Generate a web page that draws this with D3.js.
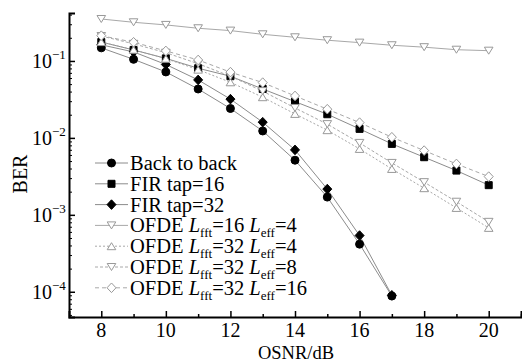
<!DOCTYPE html>
<html>
<head>
<meta charset="utf-8">
<script src="https://cdn.jsdelivr.net/npm/d3@7/dist/d3.min.js"></script>
<style>
  body { margin: 0; background: #fff; }
  svg { display: block; font-family: "Liberation Serif", "DejaVu Serif", serif; }
</style>
</head>
<body>
<div id="chart"></div>
<script>
// values
const osnr = [8, 9, 10, 11, 12, 13, 14, 15, 16, 17, 18, 19, 20];
const b2b = [0.148, 0.105, 0.072, 0.0432, 0.0241, 0.0123, 0.00513, 0.0017, 0.000416, 0.000088];
const fir16 = [0.176, 0.139, 0.108, 0.0804, 0.0633, 0.0432, 0.0296, 0.0203, 0.0131, 0.00836, 0.00561, 0.00376, 0.00243];
const fir32 = [0.162, 0.131, 0.090, 0.0567, 0.0319, 0.0160, 0.00698, 0.00216, 0.000538, 0.000090];
const ofde16_4 = [0.351, 0.318, 0.294, 0.266, 0.248, 0.222, 0.203, 0.186, 0.173, 0.160, 0.151, 0.140, 0.136];
const ofde32_4 = [0.176, 0.140, 0.107, 0.0771, 0.0528, 0.0338, 0.0205, 0.0126, 0.00719, 0.00395, 0.00222, 0.00123, 0.000677];
const ofde32_8 = [0.211, 0.167, 0.128, 0.0922, 0.0632, 0.0405, 0.0245, 0.0151, 0.00861, 0.00473, 0.00266, 0.00148, 0.000811];
const ofde32_16 = [0.213, 0.175, 0.135, 0.103, 0.0716, 0.0523, 0.0351, 0.0236, 0.0158, 0.0102, 0.00684, 0.00459, 0.00314];

const xTicks = [8, 10, 12, 14, 16, 18, 20];
const yTicks = [1e-1, 1e-2, 1e-3, 1e-4];
const yTickExp = ["\u22121", "\u22122", "\u22123", "\u22124"];

const W = 522, H = 362;

const series = [
  { name: "Back to back", vals: b2b, sym: "circle", fill: "#000", stroke: "#000", line: "#8c8c8c", dash: null },
  { name: "FIR tap=16", vals: fir16, sym: "square", fill: "#000", stroke: "#000", line: "#8c8c8c", dash: null },
  { name: "FIR tap=32", vals: fir32, sym: "diamond", fill: "#000", stroke: "#000", line: "#8c8c8c", dash: null },
  { name: ["16", "4"], vals: ofde16_4, sym: "down", fill: "#fff", stroke: "#999", line: "#a8a8a8", dash: null },
  { name: ["32", "4"], vals: ofde32_4, sym: "up", fill: "#fff", stroke: "#999", line: "#a8a8a8", dash: "2,2" },
  { name: ["32", "8"], vals: ofde32_8, sym: "down", fill: "#fff", stroke: "#999", line: "#a8a8a8", dash: "3,2" },
  { name: ["32", "16"], vals: ofde32_16, sym: "diamond", fill: "#fff", stroke: "#999", line: "#a8a8a8", dash: "4,3" }
];

const x = d3.scaleLinear().domain([7, 21]).range([69, 521]);
const y = d3.scaleLog().domain([4.7e-5, 0.42]).range([317, 13]);

function marker(type) {
  if (type === "circle") return "M4,0A4,4 0 1,1 -4,0A4,4 0 1,1 4,0Z";
  if (type === "square") return "M-3.5,-3.5H3.5V3.5H-3.5Z";
  if (type === "diamond") return "M0,-4.8L4.5,0L0,4.8L-4.5,0Z";
  if (type === "up") return "M0,-3.5L4.3,3.5L-4.3,3.5Z";
  return "M-4.3,-3.5L4.3,-3.5L0,3.5Z";
}

const svg = d3.select("#chart").append("svg")
  .attr("width", W).attr("height", H);

// lines
const line = d3.line()
  .x((d, i) => x(osnr[i]))
  .y(d => y(d));

series.forEach(s => {
  svg.append("path")
    .attr("d", line(s.vals))
    .attr("fill", "none")
    .attr("stroke", s.line)
    .attr("stroke-width", 1)
    .attr("stroke-dasharray", s.dash);
});

// markers
series.forEach(s => {
  svg.append("g").selectAll("path")
    .data(s.vals)
    .join("path")
    .attr("transform", (d, i) => `translate(${x(osnr[i])},${y(d)})`)
    .attr("d", marker(s.sym))
    .attr("fill", s.fill)
    .attr("stroke", s.stroke)
    .attr("stroke-width", 1);
});

// axes (ticks pointing inward)
const xAxis = d3.axisBottom(x).tickValues(xTicks).tickSize(-6).tickFormat("");
svg.append("g").attr("transform", "translate(0,317)").call(xAxis)
  .call(g => g.select(".domain").attr("stroke-width", 2))
  .call(g => g.selectAll(".tick line").attr("stroke-width", 1.5));
const xMinor = d3.axisBottom(x).tickValues([9, 11, 13, 15, 17, 19, 21]).tickSize(-3).tickFormat("");
svg.append("g").attr("transform", "translate(0,317)").call(xMinor)
  .call(g => g.select(".domain").remove())
  .call(g => g.selectAll(".tick line").attr("stroke-width", 1.5));

const minor = [];
[1e-5, 1e-4, 1e-3, 1e-2, 1e-1].forEach(dec => {
  for (let k = 2; k <= 9; k++) {
    const v = dec * k;
    if (v > 4.7e-5 && v < 0.42) minor.push(v);
  }
});
const yAxis = d3.axisLeft(y).tickValues(yTicks).tickSize(-6).tickFormat("");
svg.append("g").attr("transform", "translate(69,0)").call(yAxis)
  .call(g => g.select(".domain").attr("stroke-width", 2))
  .call(g => g.selectAll(".tick line").attr("stroke-width", 1.5));
const yMinor = d3.axisLeft(y).tickValues(minor).tickSize(-3).tickFormat("");
svg.append("g").attr("transform", "translate(69,0)").call(yMinor)
  .call(g => g.select(".domain").remove())
  .call(g => g.selectAll(".tick line").attr("stroke-width", 1));

// tick labels
svg.append("g").selectAll("text")
  .data(xTicks)
  .join("text")
  .attr("x", d => x(d))
  .attr("y", 337)
  .attr("text-anchor", "middle")
  .attr("font-size", 20)
  .text(d => d);

const yl = svg.append("g").selectAll("text")
  .data(yTicks)
  .join("text")
  .attr("x", 32)
  .attr("y", d => y(d) + 7)
  .attr("font-size", 20);
yl.append("tspan").text("10");
yl.append("tspan").attr("font-size", 13).attr("dy", -9).text((d, i) => yTickExp[i]);

// axis titles
svg.append("text")
  .attr("x", 296).attr("y", 359)
  .attr("text-anchor", "middle")
  .attr("font-size", 18.5)
  .text("OSNR/dB");
svg.append("text")
  .attr("transform", "translate(27,174) rotate(-90)")
  .attr("text-anchor", "middle")
  .attr("font-size", 20)
  .text("BER");

// legend
const legend = svg.append("g");
series.forEach((s, i) => {
  const ly = 163 + i * 20.8;
  const g = legend.append("g").attr("transform", `translate(0,${ly})`);
  g.append("line")
    .attr("x1", 95).attr("x2", 128)
    .attr("stroke", s.line)
    .attr("stroke-width", 1)
    .attr("stroke-dasharray", s.dash);
  g.append("path")
    .attr("transform", "translate(111.5,0)")
    .attr("d", marker(s.sym))
    .attr("fill", s.fill)
    .attr("stroke", s.stroke);
  const t = g.append("text").attr("x", 130).attr("y", 7).attr("font-size", 20.5);
  if (typeof s.name === "string") {
    t.text(s.name);
  } else {
    t.append("tspan").text("OFDE ");
    t.append("tspan").attr("font-style", "italic").text("L");
    t.append("tspan").attr("font-size", 13).attr("dy", 5).text("fft");
    t.append("tspan").attr("dy", -5).text("=" + s.name[0] + " ");
    t.append("tspan").attr("font-style", "italic").text("L");
    t.append("tspan").attr("font-size", 13).attr("dy", 5).text("eff");
    t.append("tspan").attr("dy", -5).text("=" + s.name[1]);
  }
});
</script>
</body>
</html>
